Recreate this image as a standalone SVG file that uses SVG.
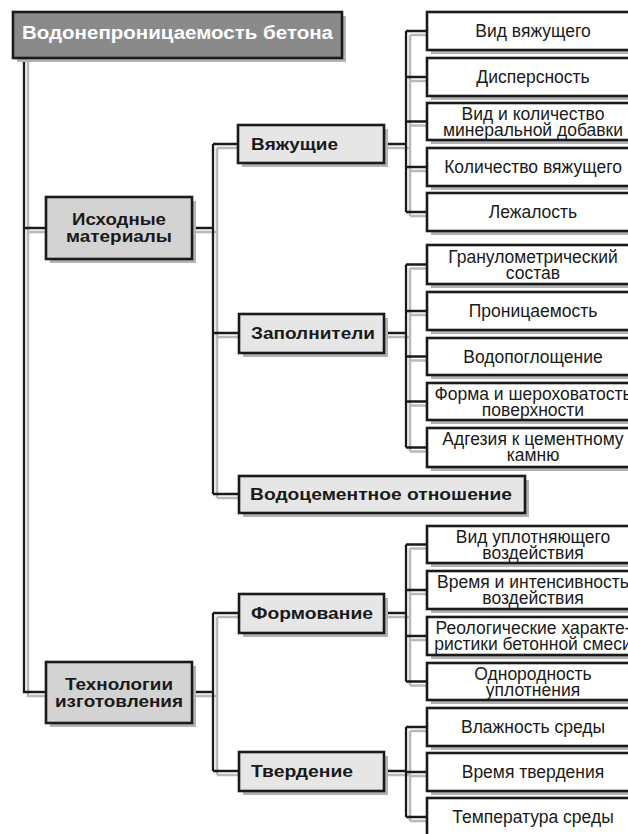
<svg xmlns="http://www.w3.org/2000/svg" width="628" height="834" viewBox="0 0 628 834">
<defs>
<style>
.bg{fill:#ffffff}
.c{fill:none;stroke:#1a1a1a;stroke-width:2.3}
.cs{fill:none;stroke:#b9b9b9;stroke-width:2.6}
.sh{fill:#b3b3b3}
.box{stroke:#1a1a1a;stroke-width:2.6}
.t0{fill:#8a8a8a}
.t1{fill:#d3d3d3}
.t2{fill:#e6e6e6}
.lf{fill:#ffffff}
.title{font-family:"Liberation Sans",Arial,sans-serif;font-weight:bold;font-size:18px;fill:#ffffff}
.b{font-family:"Liberation Sans",Arial,sans-serif;font-weight:bold;font-size:17px;fill:#1a1a1a}
.n{font-family:"Liberation Sans",Arial,sans-serif;font-size:17.5px;fill:#1a1a1a;text-anchor:middle}
.m{text-anchor:middle}
</style>
</defs>
<rect class="bg" x="0" y="0" width="628" height="834"/>

<g id="connectors">
  <g transform="translate(4,4)">
    <path class="cs" d="M24,58 V692 H46 M24,228 H46"/>
    <path class="cs" d="M192,228 H213 M213,144 V494 M213,144 H238 M213,333 H239 M213,494 H239"/>
    <path class="cs" d="M192,692 H213 M213,613 V771 M213,613 H239 M213,771 H239"/>
    <path class="cs" d="M384,144 H406 M406,31 V212 M406,31 H427 M406,77 H427 M406,121.5 H427 M406,167 H427 M406,212 H427"/>
    <path class="cs" d="M384,333 H406 M406,264.5 V447.5 M406,264.5 H427 M406,311 H427 M406,356.5 H427 M406,401.5 H427 M406,447.5 H427"/>
    <path class="cs" d="M384,613 H406 M406,544.5 V681.5 M406,544.5 H427 M406,590 H427 M406,636 H427 M406,681.5 H427"/>
    <path class="cs" d="M384,771 H406 M406,727 V817 M406,727 H427 M406,772 H427 M406,817 H427"/>
  </g>
  <path class="c" d="M24,58 V692 H46 M24,228 H46"/>
  <path class="c" d="M192,228 H213 M213,144 V494 M213,144 H238 M213,333 H239 M213,494 H239"/>
  <path class="c" d="M192,692 H213 M213,613 V771 M213,613 H239 M213,771 H239"/>
  <path class="c" d="M384,144 H406 M406,31 V212 M406,31 H427 M406,77 H427 M406,121.5 H427 M406,167 H427 M406,212 H427"/>
  <path class="c" d="M384,333 H406 M406,264.5 V447.5 M406,264.5 H427 M406,311 H427 M406,356.5 H427 M406,401.5 H427 M406,447.5 H427"/>
  <path class="c" d="M384,613 H406 M406,544.5 V681.5 M406,544.5 H427 M406,590 H427 M406,636 H427 M406,681.5 H427"/>
  <path class="c" d="M384,771 H406 M406,727 V817 M406,727 H427 M406,772 H427 M406,817 H427"/>
</g>

<g id="n-root">
  <rect class="sh" x="17" y="16" width="329" height="46"/>
  <rect class="box t0" x="13" y="12" width="329" height="46"/>
  <text class="title m" x="177.5" y="39" textLength="311" lengthAdjust="spacingAndGlyphs">Водонепроницаемость бетона</text>
</g>

<g id="n-ishodnye">
  <rect class="sh" x="50" y="201" width="146" height="62"/>
  <rect class="box t1" x="46" y="197" width="146" height="62"/>
  <text class="b m" x="119" y="225" textLength="94" lengthAdjust="spacingAndGlyphs">Исходные</text>
  <text class="b m" x="119" y="242" textLength="106" lengthAdjust="spacingAndGlyphs">материалы</text>
</g>

<g id="n-tehnologii">
  <rect class="sh" x="50" y="666" width="146" height="61"/>
  <rect class="box t1" x="46" y="662" width="146" height="61"/>
  <text class="b m" x="119" y="690" textLength="108" lengthAdjust="spacingAndGlyphs">Технологии</text>
  <text class="b m" x="119" y="707" textLength="128" lengthAdjust="spacingAndGlyphs">изготовления</text>
</g>

<g id="n-vyazhushchie">
  <rect class="sh" x="242" y="129" width="146" height="38"/>
  <rect class="box t2" x="238" y="125" width="146" height="38"/>
  <text class="b" x="251" y="150" textLength="87" lengthAdjust="spacingAndGlyphs">Вяжущие</text>
</g>

<g id="n-zapolniteli">
  <rect class="sh" x="243" y="318" width="145" height="39"/>
  <rect class="box t2" x="239" y="314" width="145" height="39"/>
  <text class="b" x="251" y="339" textLength="124" lengthAdjust="spacingAndGlyphs">Заполнители</text>
</g>

<g id="n-vc">
  <rect class="sh" x="243" y="480" width="286" height="37"/>
  <rect class="box t2" x="239" y="476" width="286" height="37"/>
  <text class="b" x="250" y="500" textLength="262" lengthAdjust="spacingAndGlyphs">Водоцементное отношение</text>
</g>

<g id="n-formovanie">
  <rect class="sh" x="243" y="598" width="145" height="39"/>
  <rect class="box t2" x="239" y="594" width="145" height="39"/>
  <text class="b" x="251" y="619" textLength="122" lengthAdjust="spacingAndGlyphs">Формование</text>
</g>

<g id="n-tverdenie">
  <rect class="sh" x="243" y="756" width="145" height="39"/>
  <rect class="box t2" x="239" y="752" width="145" height="39"/>
  <text class="b" x="251" y="777" textLength="102" lengthAdjust="spacingAndGlyphs">Твердение</text>
</g>

<g id="l1"><rect class="sh" x="431" y="16" width="214" height="38"/><rect class="box lf" x="427" y="12" width="214" height="38"/><text class="n" x="533" y="37">Вид вяжущего</text></g>
<g id="l2"><rect class="sh" x="431" y="62" width="214" height="38"/><rect class="box lf" x="427" y="58" width="214" height="38"/><text class="n" x="533" y="83">Дисперсность</text></g>
<g id="l3"><rect class="sh" x="431" y="107" width="214" height="37"/><rect class="box lf" x="427" y="103" width="214" height="37"/><text class="n" x="533" y="119.5">Вид и количество</text><text class="n" x="533" y="135.5">минеральной добавки</text></g>
<g id="l4"><rect class="sh" x="431" y="152" width="214" height="38"/><rect class="box lf" x="427" y="148" width="214" height="38"/><text class="n" x="533" y="173">Количество вяжущего</text></g>
<g id="l5"><rect class="sh" x="431" y="197" width="214" height="38"/><rect class="box lf" x="427" y="193" width="214" height="38"/><text class="n" x="533" y="218">Лежалость</text></g>

<g id="l6"><rect class="sh" x="431" y="249" width="214" height="39"/><rect class="box lf" x="427" y="245" width="214" height="39"/><text class="n" x="533" y="263">Гранулометрический</text><text class="n" x="533" y="279">состав</text></g>
<g id="l7"><rect class="sh" x="431" y="296" width="214" height="38"/><rect class="box lf" x="427" y="292" width="214" height="38"/><text class="n" x="533" y="317">Проницаемость</text></g>
<g id="l8"><rect class="sh" x="431" y="342" width="214" height="37"/><rect class="box lf" x="427" y="338" width="214" height="37"/><text class="n" x="533" y="362.5">Водопоглощение</text></g>
<g id="l9"><rect class="sh" x="431" y="387" width="214" height="37"/><rect class="box lf" x="427" y="383" width="214" height="37"/><text class="n" x="533" y="399.5">Форма и шероховатость</text><text class="n" x="533" y="415.5">поверхности</text></g>
<g id="l10"><rect class="sh" x="431" y="432" width="214" height="39"/><rect class="box lf" x="427" y="428" width="214" height="39"/><text class="n" x="533" y="445">Адгезия к цементному</text><text class="n" x="533" y="461">камню</text></g>

<g id="l11"><rect class="sh" x="431" y="530" width="214" height="37"/><rect class="box lf" x="427" y="526" width="214" height="37"/><text class="n" x="533" y="542.5">Вид уплотняющего</text><text class="n" x="533" y="558.5">воздействия</text></g>
<g id="l12"><rect class="sh" x="431" y="575" width="214" height="38"/><rect class="box lf" x="427" y="571" width="214" height="38"/><text class="n" x="533" y="588">Время и интенсивность</text><text class="n" x="533" y="604">воздействия</text></g>
<g id="l13"><rect class="sh" x="431" y="621" width="214" height="38"/><rect class="box lf" x="427" y="617" width="214" height="38"/><text class="n" x="533" y="634">Реологические характе-</text><text class="n" x="533" y="650">ристики бетонной смеси</text></g>
<g id="l14"><rect class="sh" x="431" y="667" width="214" height="37"/><rect class="box lf" x="427" y="663" width="214" height="37"/><text class="n" x="533" y="679.5">Однородность</text><text class="n" x="533" y="695.5">уплотнения</text></g>

<g id="l15"><rect class="sh" x="431" y="712" width="214" height="38"/><rect class="box lf" x="427" y="708" width="214" height="38"/><text class="n" x="533" y="733">Влажность среды</text></g>
<g id="l16"><rect class="sh" x="431" y="757" width="214" height="38"/><rect class="box lf" x="427" y="753" width="214" height="38"/><text class="n" x="533" y="778">Время твердения</text></g>
<g id="l17"><rect class="sh" x="431" y="802" width="214" height="38"/><rect class="box lf" x="427" y="798" width="214" height="38"/><text class="n" x="533" y="823">Температура среды</text></g>
</svg>
